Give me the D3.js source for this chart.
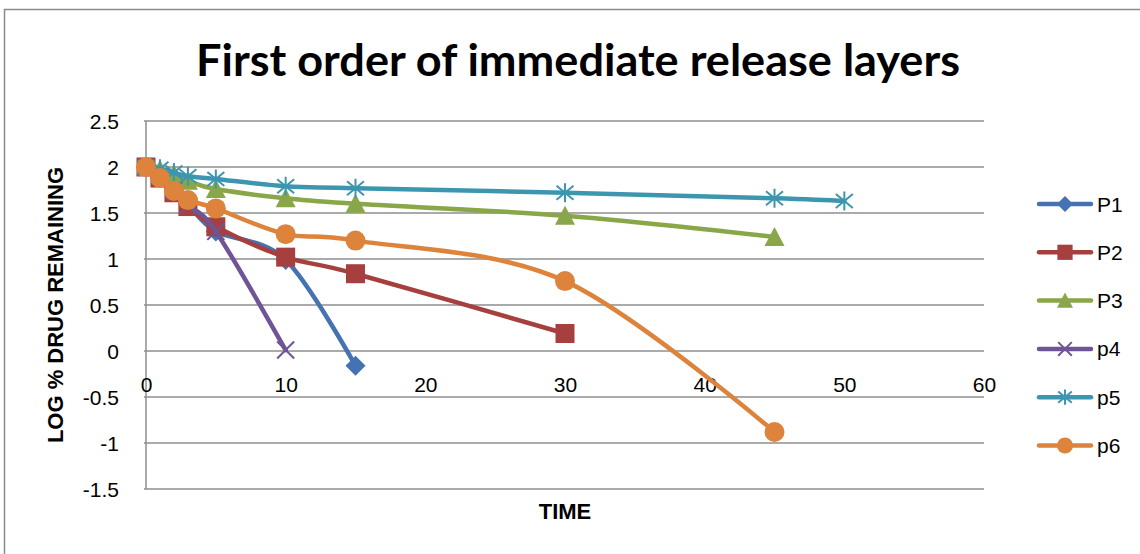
<!DOCTYPE html>
<html>
<head>
<meta charset="utf-8">
<script src="https://cdn.jsdelivr.net/npm/d3@7/dist/d3.min.js"></script>
<style>
  html, body { margin: 0; padding: 0; background: #fff; }
  svg { display: block; }
  text { font-family: "Liberation Sans", Arial, sans-serif; fill: #000; }
</style>
</head>
<body>
<svg id="chart" width="1140" height="554"></svg>
<script>
// Log % drug remaining over time for six immediate-release layers
const chartTitle = "First order of immediate release layers";
const xTicks = [0, 10, 20, 30, 40, 50, 60];
const yTicks = [-1.5, -1, -0.5, 0, 0.5, 1, 1.5, 2, 2.5];

const p1Time = [0, 1, 2, 3, 5, 10, 15];
const p1Log  = [2, 1.9, 1.76, 1.6, 1.3, 0.99, -0.16];

const p2Time = [0, 1, 2, 3, 5, 10, 15, 30];
const p2Log  = [2, 1.88, 1.72, 1.57, 1.35, 1.02, 0.84, 0.19];

const p3Time = [0, 1, 2, 3, 5, 10, 15, 30, 45];
const p3Log  = [2, 1.97, 1.92, 1.85, 1.76, 1.66, 1.6, 1.47, 1.24];

const p4Time = [0, 1, 2, 3, 5, 10];
const p4Log  = [2, 1.9, 1.75, 1.58, 1.3, 0.01];

const p5Time = [0, 1, 2, 3, 5, 10, 15, 30, 45, 50];
const p5Log  = [2, 1.98, 1.94, 1.9, 1.87, 1.79, 1.77, 1.72, 1.66, 1.63];

const p6Time = [0, 1, 2, 3, 5, 10, 15, 30, 45];
const p6Log  = [2, 1.88, 1.74, 1.64, 1.55, 1.27, 1.2, 0.76, -0.88];

const seriesNames  = ["P1", "P2", "P3", "p4", "p5", "p6"];
const seriesColors = ["#4472b2", "#a6403e", "#89a648", "#6f5496", "#3d96b0", "#dd833b"];
const seriesShapes = ["diamond", "square", "triangle", "cross", "star", "circle"];
const seriesTimes  = [p1Time, p2Time, p3Time, p4Time, p5Time, p6Time];
const seriesLogs   = [p1Log, p2Log, p3Log, p4Log, p5Log, p6Log];

const series = seriesNames.map((name, i) => ({
  name,
  color: seriesColors[i],
  shape: seriesShapes[i],
  points: seriesTimes[i].map((t, j) => ({ t, v: seriesLogs[i][j] }))
}));

const svg = d3.select("#chart");
const plot = { left: 146, right: 984, top: 121, bottom: 489 };

const x = d3.scaleLinear().domain([0, 60]).range([plot.left, plot.right]);
const y = d3.scaleLinear().domain([-1.5, 2.5]).range([plot.bottom, plot.top]);

// outer chart frame (top and left edges)
svg.append("path")
  .attr("d", "M4.5,560 L4.5,9.5 L1150,9.5")
  .attr("fill", "none").attr("stroke", "#8a8a8a").attr("stroke-width", 1.5);

// title
const title = svg.append("text")
  .attr("x", 578).attr("y", 76)
  .attr("text-anchor", "middle")
  .style("font-family", "Lato, 'Liberation Sans', sans-serif")
  .style("font-weight", "bold")
  .style("font-size", "44px")
  .text(chartTitle);
const tw = title.node().getComputedTextLength();
if (Math.abs(tw - 764) > 6) {
  title.attr("textLength", 764).attr("lengthAdjust", "spacingAndGlyphs");
}

// horizontal gridlines
svg.append("g")
  .selectAll("line")
  .data(yTicks)
  .join("line")
  .attr("x1", plot.left - 2).attr("x2", plot.right)
  .attr("y1", d => y(d)).attr("y2", d => y(d))
  .attr("stroke", "#8e8e8e").attr("stroke-width", 1.5);

// vertical axis line
svg.append("line")
  .attr("x1", x(0)).attr("x2", x(0))
  .attr("y1", plot.top).attr("y2", plot.bottom)
  .attr("stroke", "#8e8e8e").attr("stroke-width", 1.5);

// y axis labels
const yAxis = d3.axisLeft(y).tickValues(yTicks).tickSize(0).tickPadding(0)
  .tickFormat(d => d3.format("")(d).replace("\u2212", "-"));
const yg = svg.append("g").attr("transform", `translate(${plot.left - 27},0)`).call(yAxis);
yg.select(".domain").remove();
yg.selectAll("text")
  .attr("dy", "0.36em")
  .style("font-size", "21px")
  .style("font-family", "'Liberation Sans', Arial, sans-serif");

// x axis labels sit below the zero line
const xAxis = d3.axisBottom(x).tickValues(xTicks).tickSize(0).tickPadding(0);
const xg = svg.append("g").attr("transform", `translate(0,${y(0) + 26})`).call(xAxis);
xg.select(".domain").remove();
xg.selectAll("text")
  .attr("dy", "0.72em")
  .style("font-size", "21px")
  .style("font-family", "'Liberation Sans', Arial, sans-serif");

// axis titles
svg.append("text")
  .attr("x", (plot.left + plot.right) / 2).attr("y", 519)
  .attr("text-anchor", "middle")
  .style("font-weight", "bold").style("font-size", "22px")
  .text("TIME");

svg.append("text")
  .attr("transform", `translate(63,${(plot.top + plot.bottom) / 2}) rotate(-90)`)
  .attr("text-anchor", "middle")
  .style("font-weight", "bold").style("font-size", "22px")
  .text("LOG % DRUG REMAINING");

// marker shapes, s = half width
function drawMarker(g, shape, color, s) {
  switch (shape) {
    case "diamond":
      g.append("path").attr("d", `M0,${-s} L${s},0 L0,${s} L${-s},0 Z`).attr("fill", color);
      break;
    case "square":
      g.append("rect").attr("x", -s * 0.95).attr("y", -s * 0.95)
        .attr("width", s * 1.9).attr("height", s * 1.9).attr("fill", color);
      break;
    case "triangle":
      g.append("path").attr("d", `M0,${-s} L${s},${s * 0.9} L${-s},${s * 0.9} Z`).attr("fill", color);
      break;
    case "cross":
      g.append("path").attr("d", `M${-s * 0.85},${-s * 0.85} L${s * 0.85},${s * 0.85} M${s * 0.85},${-s * 0.85} L${-s * 0.85},${s * 0.85}`)
        .attr("stroke", color).attr("stroke-width", 2).attr("fill", "none");
      break;
    case "star":
      g.append("path").attr("d", `M${-s * 0.85},${-s * 0.7} L${s * 0.85},${s * 0.7} M${s * 0.85},${-s * 0.7} L${-s * 0.85},${s * 0.7} M0,${-s * 0.95} L0,${s * 0.95}`)
        .attr("stroke", color).attr("stroke-width", 2).attr("fill", "none");
      break;
    case "circle":
      g.append("circle").attr("r", s).attr("fill", color);
      break;
  }
}

// smoothed series lines with markers
const line = d3.line()
  .x(d => x(d.t))
  .y(d => y(d.v))
  .curve(d3.curveCardinal.tension(0));

series.forEach(s => {
  const g = svg.append("g").attr("class", "series");
  g.append("path")
    .attr("d", line(s.points))
    .attr("fill", "none")
    .attr("stroke", s.color)
    .attr("stroke-width", 4.5)
    .attr("stroke-linejoin", "round")
    .attr("stroke-linecap", "round");
  s.points.forEach(p => {
    const m = g.append("g").attr("transform", `translate(${x(p.t)},${y(p.v)})`);
    drawMarker(m, s.shape, s.color, 10);
  });
});

// legend
const legend = svg.append("g");
series.forEach((s, i) => {
  const cy = 204 + i * 48.3;
  const row = legend.append("g").attr("transform", `translate(0,${cy})`);
  row.append("line")
    .attr("x1", 1039).attr("x2", 1091)
    .attr("stroke", s.color).attr("stroke-width", 4.5).attr("stroke-linecap", "round");
  const m = row.append("g").attr("transform", "translate(1065,0)");
  drawMarker(m, s.shape, s.color, 8);
  row.append("text")
    .attr("x", 1097).attr("y", 0).attr("dy", "0.36em")
    .style("font-size", "21px")
    .text(s.name);
});
</script>
</body>
</html>
